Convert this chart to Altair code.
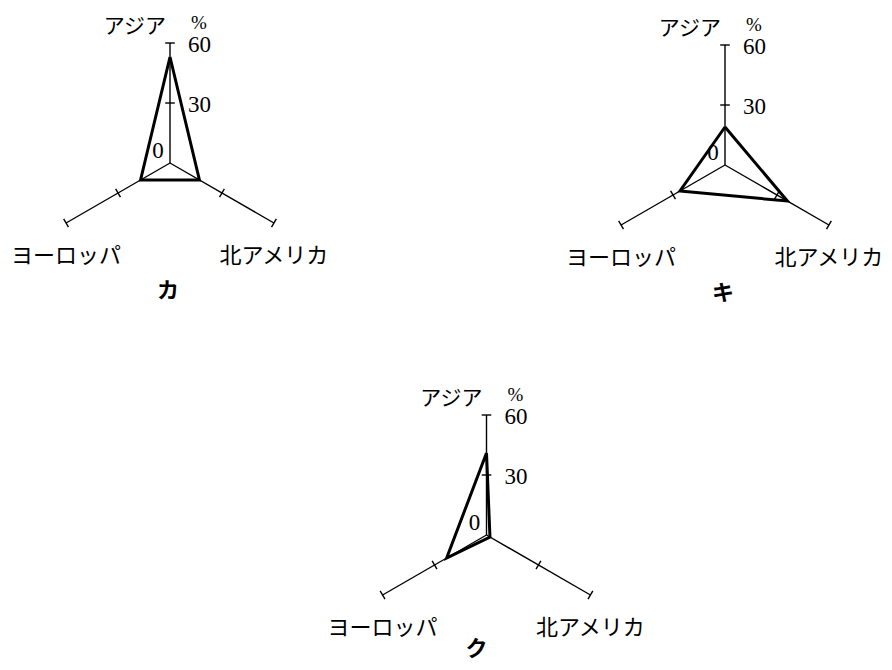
import math
import altair as alt
import pandas as pd

# ---- data ----
panels = ["カ", "キ", "ク"]
regions = ["アジア", "ヨーロッパ", "北アメリカ"]
asia = [53, 19, 41]
europe = [17, 26, 23]
north_america = [17, 36, 2]
axis_max = 60
tick_values = [30, 60]
tick_labels = ["30", "60"]
zero_label = "0"
unit_label = "%"

# ---- layout (pixels on the page) ----
W, H = 876, 654
PX = 2.0  # pixels per percent
centers_px = {"カ": (170, 163), "キ": (725, 165), "ク": (486.5, 535)}
top_row = ["カ", "キ"]
angles = {"アジア": 90, "ヨーロッパ": 210, "北アメリカ": 330}
TICK_HALF = 2.4  # in percent units

def center_units(p):
    px, py = centers_px[p]
    return (px - 8) / PX, (H - (py - 8)) / PX

def pt(p, region, v):
    cx, cy = center_units(p)
    a = math.radians(angles[region])
    return cx + v * math.cos(a), cy + v * math.sin(a)

values = {"アジア": asia, "ヨーロッパ": europe, "北アメリカ": north_america}

poly_rows, axis_rows, tick_rows = [], [], []
for i, p in enumerate(panels):
    order_regions = regions + [regions[0]]
    for k, r in enumerate(order_regions):
        x, y = pt(p, r, values[r][i])
        poly_rows.append({"panel": p, "ord": k, "x": x, "y": y})
    for r in regions:
        x0, y0 = pt(p, r, 0)
        x1, y1 = pt(p, r, axis_max)
        axis_rows.append({"panel": p, "x": x0, "y": y0, "x2": x1, "y2": y1})
        a = math.radians(angles[r])
        nx, ny = -math.sin(a), math.cos(a)
        for v in tick_values:
            tx, ty = pt(p, r, v)
            tick_rows.append({"panel": p, "x": tx - nx * TICK_HALF, "y": ty - ny * TICK_HALF,
                              "x2": tx + nx * TICK_HALF, "y2": ty + ny * TICK_HALF})

poly_df = pd.DataFrame(poly_rows)
axis_df = pd.DataFrame(axis_rows)
tick_df = pd.DataFrame(tick_rows)

ticklab_rows, zero_rows, unit_rows = [], [], []
title_top, title_bottom = [], []
reg_rows = {r: [] for r in regions}
for p in panels:
    cx, cy = center_units(p)
    for v, lab in zip(tick_values, tick_labels):
        x, y = pt(p, "アジア", v)
        ticklab_rows.append({"x": x, "y": y, "t": lab})
    zero_rows.append({"x": cx, "y": cy, "t": zero_label})
    x, y = pt(p, "アジア", axis_max)
    unit_rows.append({"x": x, "y": y, "t": unit_label})
    for r in regions:
        x, y = pt(p, r, axis_max)
        reg_rows[r].append({"x": x, "y": y, "t": r})
    (title_top if p in top_row else title_bottom).append({"x": cx, "y": cy, "t": p})

XS = alt.Scale(domain=[0, W / PX], nice=False, zero=False)
YS = alt.Scale(domain=[0, H / PX], nice=False, zero=False)

def X(f="x"):
    return alt.X(f"{f}:Q", scale=XS, axis=None)

def Y(f="y"):
    return alt.Y(f"{f}:Q", scale=YS, axis=None)

axes = alt.Chart(axis_df).mark_rule(color="black", strokeWidth=1.4).encode(
    x=X(), y=Y(), x2="x2:Q", y2="y2:Q")
ticks = alt.Chart(tick_df).mark_rule(color="black", strokeWidth=1.4).encode(
    x=X(), y=Y(), x2="x2:Q", y2="y2:Q")
poly = alt.Chart(poly_df).mark_line(color="black", strokeWidth=3, strokeJoin="miter").encode(
    x=X(), y=Y(), detail="panel:N", order="ord:Q")

JP = "Noto Sans CJK JP"
NUM = "Liberation Serif"

def text_layer(rows, **kw):
    base = dict(color="black", baseline="middle")
    base.update(kw)
    return alt.Chart(pd.DataFrame(rows)).mark_text(**base).encode(x=X(), y=Y(), text="t:N")

layers = [
    axes, ticks, poly,
    text_layer(ticklab_rows, font=NUM, fontSize=23, align="left", dx=18, dy=2),
    text_layer(zero_rows, font=NUM, fontSize=23, align="center", dx=-12, dy=-12),
    text_layer(unit_rows, font=NUM, fontSize=19, align="center", dx=29, dy=-20),
    text_layer(reg_rows["アジア"], font=JP, fontSize=21, align="right", dx=-4, dy=-16),
    text_layer(reg_rows["ヨーロッパ"], font=JP, fontSize=22, align="center", dx=0, dy=33),
    text_layer(reg_rows["北アメリカ"], font=JP, fontSize=22, align="center", dx=0, dy=33),
    text_layer(title_top, font=JP, fontSize=22, fontWeight="bold", align="center", dx=-2, dy=128),
    text_layer(title_bottom, font=JP, fontSize=22, fontWeight="bold", align="center", dx=-10, dy=114),
]

chart = alt.layer(*layers).properties(
    width=W, height=H, padding=0, autosize="none", background="white"
).configure_view(stroke=None)

chart.save("out.html", embed_options={"renderer": "svg", "actions": False})
